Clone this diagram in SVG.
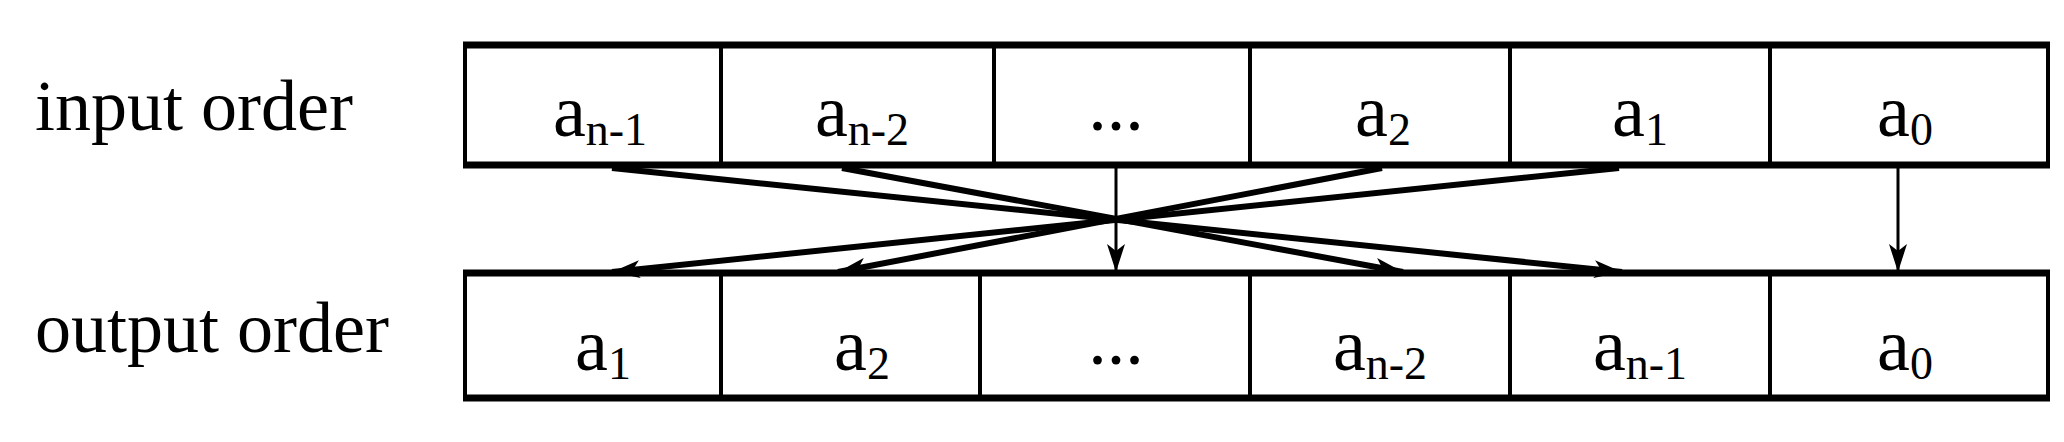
<svg xmlns="http://www.w3.org/2000/svg" width="2064" height="442" viewBox="0 0 2064 442">
<style>
text{font-family:"Liberation Serif","Times New Roman",serif;fill:#000}
.lbl{font-size:72px}
.c{font-size:74px;text-anchor:middle}
.s{font-size:46px}
.h{stroke:#000;stroke-width:7;fill:none}
.v{stroke:#000;stroke-width:4;fill:none}
.d{stroke:#000;stroke-width:6;fill:none;marker-end:url(#ah)}
.t{stroke:#000;stroke-width:3;fill:none;marker-end:url(#ah)}
</style>
<defs>
<marker id="ah" viewBox="0 0 28 18" refX="28" refY="9" markerWidth="28" markerHeight="18" markerUnits="userSpaceOnUse" orient="auto">
<path d="M0,0 L28,9 L0,18 L7,9 Z" fill="#000"/>
</marker>
</defs>
<g id="labels">
<text class="lbl" x="35" y="130">input order</text>
<text class="lbl" x="35" y="352">output order</text>
</g>
<g id="input">
<path class="h" d="M463,45 H2050 M463,165 H2050"/>
<path class="v" d="M465,42 V168 M721,42 V168 M994,42 V168 M1250,42 V168 M1510,42 V168 M1770,42 V168 M2048,42 V168"/>
<text class="c" x="600" y="136">a<tspan class="s" dy="9">n-1</tspan></text>
<text class="c" x="862" y="136">a<tspan class="s" dy="9">n-2</tspan></text>
<text class="c" x="1116" y="130">...</text>
<text class="c" x="1383" y="136">a<tspan class="s" dy="9">2</tspan></text>
<text class="c" x="1640" y="136">a<tspan class="s" dy="9">1</tspan></text>
<text class="c" x="1905" y="136">a<tspan class="s" dy="9">0</tspan></text>
</g>
<g id="output">
<path class="h" d="M463,273 H2050 M463,398 H2050"/>
<path class="v" d="M465,270 V401 M721,270 V401 M980,270 V401 M1250,270 V401 M1510,270 V401 M1770,270 V401 M2048,270 V401"/>
<text class="c" x="603" y="370">a<tspan class="s" dy="9">1</tspan></text>
<text class="c" x="862" y="370">a<tspan class="s" dy="9">2</tspan></text>
<text class="c" x="1116" y="364">...</text>
<text class="c" x="1380" y="370">a<tspan class="s" dy="9">n-2</tspan></text>
<text class="c" x="1640" y="370">a<tspan class="s" dy="9">n-1</tspan></text>
<text class="c" x="1905" y="370">a<tspan class="s" dy="9">0</tspan></text>
</g>
<g id="connectors">
<path class="d" d="M612,168 L1622,272"/>
<path class="d" d="M842,168 L1403,272"/>
<path class="d" d="M1382,168 L838,272"/>
<path class="d" d="M1619,168 L612,272"/>
<path class="t" d="M1116,168 L1116,272"/>
<path class="t" d="M1898,168 L1898,272"/>
</g>
</svg>
